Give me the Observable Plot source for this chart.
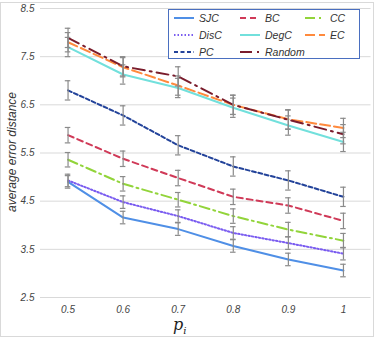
<!DOCTYPE html>
<html>
<head>
<meta charset="utf-8">
<script src="https://cdn.jsdelivr.net/npm/d3@7"></script>
<script src="https://cdn.jsdelivr.net/npm/@observablehq/plot@0.6"></script>
<style>
  html, body { margin: 0; padding: 0; background: #fff; }
  #wrap { position: relative; width: 374px; height: 348px; overflow: hidden; }
  #frame { position: absolute; left: 0px; top: 2px; width: 372px; height: 333px; border: 1px solid #d9d9d9; pointer-events: none; }
  #legend { position: absolute; left: 168px; top: 9px; width: 190px; height: 48px; border: 1px solid #4a6fc0; background: #fff;
            font-family: "Liberation Sans", Arial, sans-serif; font-style: italic; font-size: 10.5px; color: #333; }
  .item { position: absolute; display: flex; align-items: center; height: 14px; }
  .item svg { margin-right: 5px; }
  #ylab { position: absolute; left: 12px; top: 152px; transform: translate(-50%,-50%) rotate(-90deg); transform-origin: center;
          font-family: "Liberation Sans", Arial, sans-serif; font-style: italic; font-size: 12px; color: #333; white-space: nowrap; }
  #xlab { position: absolute; left: 173px; top: 315px; font-family: "DejaVu Serif", "Liberation Serif", serif; font-style: italic; font-size: 16px; color: #222; }
  #xlab sub { font-size: 10px; }
</style>
</head>
<body>
<div id="wrap">
  <div id="chart"></div>
  <div id="frame"></div>
  <div id="legend"></div>
  <div id="xlab">p<sub>i</sub></div>
  <div id="ylab">average error distance</div>
</div>
<script>
const pValues = [0.5, 0.6, 0.7, 0.8, 0.9, 1];
const xTickLabels = ["0.5", "0.6", "0.7", "0.8", "0.9", "1"];
const yTicks = [2.5, 3.5, 4.5, 5.5, 6.5, 7.5, 8.5];

const seriesNames = ["SJC", "BC", "CC", "DisC", "DegC", "EC", "PC", "Random"];
const SJC    = [4.90, 4.16, 3.92, 3.57, 3.29, 3.06];
const BC     = [5.87, 5.38, 4.98, 4.59, 4.41, 4.09];
const CC     = [5.36, 4.86, 4.53, 4.19, 3.91, 3.68];
const DisC   = [4.93, 4.48, 4.19, 3.84, 3.63, 3.41];
const DegC   = [7.70, 7.13, 6.85, 6.44, 6.07, 5.73];
const EC     = [7.80, 7.28, 6.90, 6.50, 6.20, 6.02];
const PC     = [6.80, 6.28, 5.66, 5.22, 4.93, 4.59];
const Random = [7.89, 7.30, 7.09, 6.50, 6.19, 5.89];
const errorSizes = [0.13, 0.16, 0.15, 0.13, 0.2, 0.2, 0.2, 0.2];

const seriesColors = ["#4f8fe6", "#d03a58", "#92d43a", "#7a5cf0", "#72e0dc", "#ff8a3d", "#23439a", "#7a1c2c"];
const seriesDash = ["none", "6,4", "10,4,2,4", "1.5,2", "none", "10,4", "4,2.5", "12,5,2,5"];

const seriesValues = [SJC, BC, CC, DisC, DegC, EC, PC, Random];
const rows = [];
seriesNames.forEach((name, i) => {
  seriesValues[i].forEach((v, j) => rows.push({series: name, p: pValues[j], value: v, err: errorSizes[i]}));
});

const capHalf = 0.005;
const marks = [
  Plot.gridY(yTicks, {stroke: "#d9d9d9", strokeOpacity: 1, strokeWidth: 1})
];
seriesNames.forEach((name, i) => {
  marks.push(Plot.line(rows.filter(d => d.series === name), {
    x: "p", y: "value", stroke: seriesColors[i], strokeWidth: 2,
    strokeDasharray: seriesDash[i] === "none" ? null : seriesDash[i]
  }));
});
marks.push(Plot.ruleX(rows, {x: "p", y1: d => d.value - d.err, y2: d => d.value + d.err, stroke: "#8a8a8a", strokeWidth: 1.2}));
marks.push(Plot.ruleY(rows, {y: d => d.value - d.err, x1: d => d.p - capHalf, x2: d => d.p + capHalf, stroke: "#8a8a8a", strokeWidth: 1.2}));
marks.push(Plot.ruleY(rows, {y: d => d.value + d.err, x1: d => d.p - capHalf, x2: d => d.p + capHalf, stroke: "#8a8a8a", strokeWidth: 1.2}));
marks.push(Plot.axisX(pValues, {tickSize: 0, tickFormat: (d, i) => xTickLabels[i], fontStyle: "italic", fontSize: 10, fill: "#444", tickPadding: 8}));
marks.push(Plot.axisY(yTicks, {tickSize: 0, tickFormat: d => d.toFixed(1), fontStyle: "italic", fontSize: 10, fill: "#444", tickPadding: 6}));

const plot = Plot.plot({
  width: 374,
  height: 348,
  marginLeft: 40,
  marginRight: 3.5,
  marginTop: 8,
  marginBottom: 51,
  style: {fontFamily: "'Liberation Sans', Arial, sans-serif", background: "transparent"},
  x: {domain: [0.45, 1.05], label: null},
  y: {domain: [2.5, 8.5], label: null},
  marks
});
document.getElementById("chart").appendChild(plot);

// Legend
const legend = document.getElementById("legend");
const legendOrder = ["SJC", "BC", "CC", "DisC", "DegC", "EC", "PC", "Random"];
const colX = [5, 71, 136];
const rowY = [1, 18, 35];
legendOrder.forEach((name, k) => {
  const i = seriesNames.indexOf(name);
  const item = document.createElement("div");
  item.className = "item";
  item.style.left = colX[k % 3] + "px";
  item.style.top = rowY[Math.floor(k / 3)] + "px";
  const dash = seriesDash[i] === "none" ? "" : `stroke-dasharray="${seriesDash[i]}"`;
  item.innerHTML = `<svg width="20" height="6"><line x1="0" y1="3" x2="20" y2="3" stroke="${seriesColors[i]}" stroke-width="2" ${dash}/></svg><span>${name}</span>`;
  legend.appendChild(item);
});
</script>
</body>
</html>
